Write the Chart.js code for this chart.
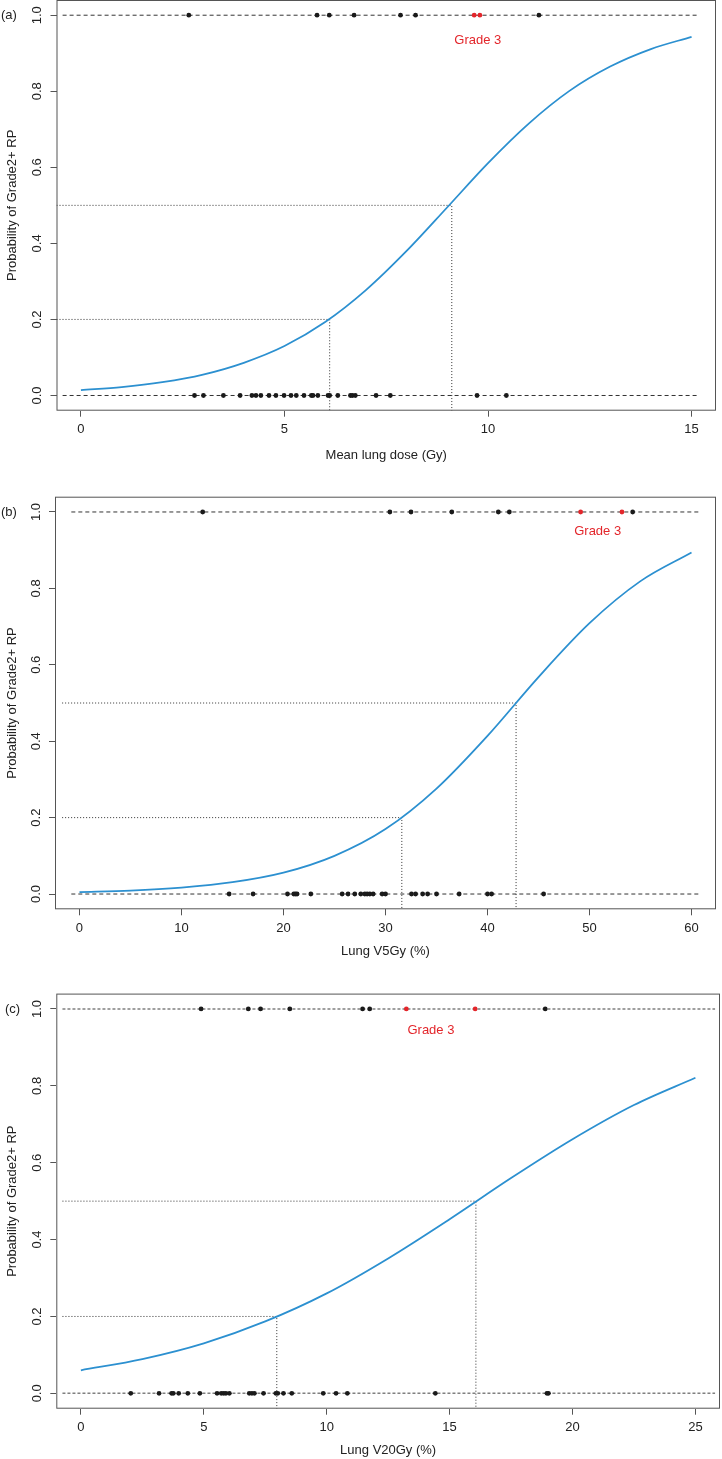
<!DOCTYPE html>
<html lang="en">
<head>
  <meta charset="UTF-8">
  <title>Probability of Grade2+ RP</title>
  <style>
    body {
      margin: 0;
      background: #ffffff;
      width: 722px;
      height: 1459px;
      position: relative;
      overflow: hidden;
    }
    canvas {
      position: absolute;
      left: 0;
    }
  </style>
</head>
<body>
  <canvas id="chart-a" width="722" height="490" style="top:0px"></canvas>
  <canvas id="chart-b" width="722" height="495" style="top:490px"></canvas>
  <canvas id="chart-c" width="722" height="474" style="top:985px"></canvas>

  <script src="https://cdn.jsdelivr.net/npm/chart.js"></script>
  <script>
    // panel (a): mean lung dose
    const doseA = [0, 1, 2, 3, 4, 5, 6, 7, 8, 9, 10, 11, 12, 13, 14, 15];
    const probA = [0.014, 0.022, 0.035, 0.055, 0.086, 0.130, 0.193, 0.277, 0.380, 0.495, 0.611, 0.715, 0.801, 0.865, 0.911, 0.943];
    const noRpA = [2.79, 3.01, 3.50, 3.91, 4.20, 4.30, 4.42, 4.62, 4.79, 4.99, 5.16, 5.29, 5.48, 5.66, 5.70, 5.82, 6.07, 6.11, 6.31, 6.62, 6.67, 6.74, 7.25, 7.60, 9.73, 10.45];
    const rpA = [2.65, 5.80, 6.10, 6.71, 7.85, 8.22, 11.25];
    const grade3A = [9.66, 9.80];
    const cutA = [6.11, 9.11];
    const xTicksA = [0, 5, 10, 15];

    // panel (b): lung V5Gy
    const doseB = [0, 5, 10, 15, 20, 25, 30, 35, 40, 45, 50, 55, 60];
    const probB = [0.005, 0.009, 0.017, 0.031, 0.056, 0.100, 0.170, 0.276, 0.414, 0.568, 0.709, 0.819, 0.894];
    const noRpB = [14.67, 17.02, 20.39, 21.01, 21.18, 21.33, 22.68, 25.75, 26.33, 26.99, 27.58, 27.97, 28.20, 28.46, 28.79, 29.67, 30.00, 32.55, 32.95, 33.64, 34.13, 35.00, 37.22, 40.00, 40.40, 45.50];
    const rpB = [12.08, 30.43, 32.50, 36.50, 41.06, 42.14, 54.23];
    const grade3B = [49.13, 53.18];
    const cutB = [31.6, 42.8];
    const xTicksB = [0, 10, 20, 30, 40, 50, 60];

    // panel (c): lung V20Gy
    const doseC = [0, 2.5, 5, 7.5, 10, 12.5, 15, 17.5, 20, 22.5, 25];
    const probC = [0.060, 0.089, 0.130, 0.187, 0.260, 0.351, 0.453, 0.560, 0.661, 0.750, 0.821];
    const noRpC = [2.03, 3.18, 3.69, 3.76, 3.98, 4.35, 4.84, 5.54, 5.71, 5.81, 5.90, 6.04, 6.85, 6.96, 7.06, 7.43, 7.93, 8.01, 8.24, 8.58, 9.86, 10.38, 10.84, 14.42, 18.96, 19.02];
    const rpC = [4.89, 6.81, 7.31, 8.50, 11.46, 11.75, 18.89];
    const grade3C = [13.24, 16.04];
    const cutC = [7.97, 16.07];
    const xTicksC = [0, 5, 10, 15, 20, 25];

    const yTicks = [0, 0.2, 0.4, 0.6, 0.8, 1.0];
    const cutLevels = [0.2, 0.5];

    const FONT = { family: "'Liberation Sans', Arial, sans-serif", size: 13 };
    const TEXT = '#222222';
    const AXIS = '#555555';
    const RED = '#e3262b';
    const BLUE = '#2c90d0';

    const decor = {
      id: 'decor',
      afterDraw(chart, args, opts) {
        const { ctx, chartArea: a, scales } = chart;
        ctx.save();
        ctx.strokeStyle = AXIS;
        ctx.lineWidth = 1;
        ctx.strokeRect(a.left + 0.5, a.top + 0.5, a.right - a.left - 1, a.bottom - a.top - 1);
        ctx.font = '13px ' + FONT.family;
        ctx.textBaseline = 'middle';
        ctx.fillStyle = TEXT;
        ctx.textAlign = 'left';
        ctx.fillText(opts.tag, opts.tagX, scales.y.getPixelForValue(1));
        ctx.fillStyle = RED;
        ctx.textAlign = 'center';
        ctx.fillText('Grade 3', scales.x.getPixelForValue(opts.gx), scales.y.getPixelForValue(opts.gy));
        ctx.restore();
      }
    };

    function xy(xs, ys) {
      return xs.map((x, i) => ({ x: x, y: ys[i] }));
    }

    function row(xs, level) {
      return xs.map(x => ({ x: x, y: level }));
    }

    function makeChart(id, p) {
      const ctx = document.getElementById(id).getContext('2d');
      const datasets = [
        { data: row(p.grade3, 1), backgroundColor: RED, borderColor: RED, pointRadius: 2.4, borderWidth: 0 },
        { data: row(p.rp, 1), backgroundColor: '#1a1a1a', borderColor: '#1a1a1a', pointRadius: 2.4, borderWidth: 0 },
        { data: row(p.noRp, 0), backgroundColor: '#1a1a1a', borderColor: '#1a1a1a', pointRadius: 2.4, borderWidth: 0 },
        { data: xy(p.dose, p.prob), showLine: true, pointRadius: 0, borderColor: BLUE, borderWidth: 1.8, cubicInterpolationMode: 'monotone' }
      ];
      p.cuts.forEach((c, i) => {
        datasets.push({
          data: [{ x: p.refStart, y: cutLevels[i] }, { x: c, y: cutLevels[i] }, { x: c, y: -0.04 }],
          showLine: true, pointRadius: 0, borderColor: '#333333', borderWidth: 1, borderDash: [1, 2]
        });
      });
      [0, 1].forEach(level => {
        datasets.push({
          data: [{ x: p.dashFrom, y: level }, { x: p.dashTo, y: level }],
          showLine: true, pointRadius: 0, borderColor: p.dashColor, borderWidth: p.dashWidth, borderDash: p.dash
        });
      });

      return new Chart(ctx, {
        type: 'scatter',
        data: { datasets: datasets },
        options: {
          responsive: false,
          animation: false,
          layout: { autoPadding: false, padding: { top: p.padTop, right: p.padRight, left: 0, bottom: 0 } },
          plugins: {
            legend: { display: false },
            tooltip: { enabled: false },
            decor: { tag: p.tag, tagX: p.tagX, gx: p.gx, gy: p.gy }
          },
          scales: {
            x: {
              type: 'linear',
              min: p.xmin,
              max: p.xmax,
              afterBuildTicks: s => { s.ticks = p.xTicks.map(v => ({ value: v })); },
              afterFit: s => { s.height = p.xHeight; s.paddingLeft = 0; s.paddingRight = 0; },
              grid: { drawOnChartArea: false, drawTicks: true, tickLength: 6, color: AXIS },
              border: { display: false },
              ticks: { padding: 5, maxRotation: 0, autoSkip: false, color: TEXT, font: FONT },
              title: { display: true, text: p.xTitle, color: TEXT, font: FONT, padding: { top: 0, bottom: p.titlePad } }
            },
            y: {
              min: -0.04,
              max: 1.04,
              afterBuildTicks: s => { s.ticks = yTicks.map(v => ({ value: v })); },
              afterFit: s => { s.width = p.left; s.paddingTop = 0; s.paddingBottom = 0; },
              grid: { drawOnChartArea: false, drawTicks: true, tickLength: 6, color: AXIS },
              border: { display: false },
              ticks: {
                minRotation: 90, maxRotation: 90, crossAlign: 'center', padding: 4,
                color: TEXT, font: FONT, callback: v => Number(v).toFixed(1)
              },
              title: { display: true, text: 'Probability of Grade2+ RP', color: TEXT, font: FONT, padding: { top: 5, bottom: 0 } }
            }
          }
        },
        plugins: [decor]
      });
    }

    makeChart('chart-a', {
      dose: doseA, prob: probA, noRp: noRpA, rp: rpA, grade3: grade3A, cuts: cutA, xTicks: xTicksA,
      xmin: -0.6, xmax: 15.6, refStart: -0.6, dashFrom: -0.45, dashTo: 15.17,
      dashColor: '#333333', dashWidth: 1, dash: [4, 3],
      padTop: 0, padRight: 6, left: 56.5, xHeight: 79.3, titlePad: 27,
      xTitle: 'Mean lung dose (Gy)', tag: '(a)', tagX: 1, gx: 9.75, gy: 0.935
    });

    makeChart('chart-b', {
      dose: doseB, prob: probB, noRp: noRpB, rp: rpB, grade3: grade3B, cuts: cutB, xTicks: xTicksB,
      xmin: -2.4, xmax: 62.4, refStart: -1.7, dashFrom: -0.8, dashTo: 60.9,
      dashColor: '#333333', dashWidth: 1, dash: [4, 3],
      padTop: 6.7, padRight: 6, left: 55, xHeight: 75.7, titlePad: 25.5,
      xTitle: 'Lung V5Gy (%)', tag: '(b)', tagX: 1, gx: 50.8, gy: 0.948
    });

    makeChart('chart-c', {
      dose: doseC, prob: probC, noRp: noRpC, rp: rpC, grade3: grade3C, cuts: cutC, xTicks: xTicksC,
      xmin: -1, xmax: 26, refStart: -0.75, dashFrom: -0.75, dashTo: 25.8,
      dashColor: '#808080', dashWidth: 1.5, dash: [3, 2],
      padTop: 8.6, padRight: 2, left: 56.3, xHeight: 50.3, titlePad: 0.5,
      xTitle: 'Lung V20Gy (%)', tag: '(c)', tagX: 5, gx: 14.24, gy: 0.943
    });
  </script>
</body>
</html>
